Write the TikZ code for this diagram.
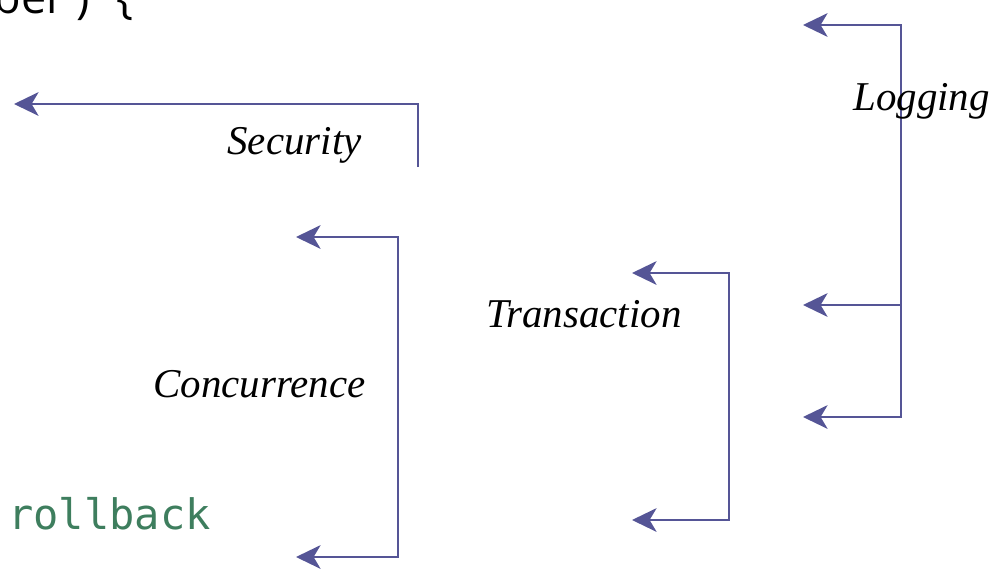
\documentclass[tikz,border=0pt]{standalone}
\usepackage{fontspec}
\newfontfamily\sigfont{Open Sans}
\newfontfamily\codefont{DejaVu Sans Mono}
\newfontfamily\labelfont{Liberation Serif}
\usetikzlibrary{arrows.meta}
\definecolor{aspectblue}{RGB}{85,85,150}
\definecolor{codegreen}{RGB}{62,126,94}
\tikzset{>={Stealth[length=14pt, width=13.5pt, inset=4pt]}}
\tikzstyle{hook} = [draw = aspectblue, line width = 1.1pt, line join = miter]
\tikzstyle{aspect} = [draw = none, inner sep = 0, font = \fontsize{23.3pt}{28pt}\labelfont\itshape]

\begin{document}
\begin{tikzpicture}[x = 0.02cm, y = -0.02cm]
\clip (0, 0) rectangle (1000, 578);
%\node at (500, 289) {};
\node [draw = none, inner sep = 0, anchor = base east, font = \fontsize{25.6pt}{30pt}\sigfont] (sig) at (134, 13) {ber )\hspace{0.6em}\{};
\node [draw = none, inner sep = 0, anchor = base west, text = codegreen, font = \fontsize{23.9pt}{28pt}\codefont] (rb) at (8, 529) {rollback};

% Security
\coordinate (S0) at (418, 167);
\coordinate (S1) at (418, 104);
\coordinate (S2) at (14, 104);
\draw [hook, ->] (S0) -- (S1) -- (S2);
\node [aspect, anchor = base east] (Sec) at (362, 154) {Security};

% Concurrence
\coordinate (C0) at (398, 237);
\coordinate (C1) at (398, 557);
\coordinate (C2) at (296, 237);
\coordinate (C3) at (296, 557);
\draw [hook, <->] (C2) -- (C0) -- (C1) -- (C3);
\node [aspect, anchor = base east] (Con) at (366, 397) {Concurrence};

% Transaction
\coordinate (T0) at (729, 273);
\coordinate (T1) at (729, 520);
\coordinate (T2) at (632, 273);
\coordinate (T3) at (632, 520);
\draw [hook, <->] (T2) -- (T0) -- (T1) -- (T3);
\node [aspect, anchor = base east] (Tra) at (682, 327) {Transaction};

% Logging
\coordinate (L0) at (901, 25);
\coordinate (L1) at (901, 417);
\coordinate (L2) at (901, 305);
\coordinate (L3) at (803, 25);
\coordinate (L4) at (803, 417);
\coordinate (L5) at (803, 305);
\draw [hook, <->] (L3) -- (L0) -- (L1) -- (L4);
\draw [hook, ->] (L2) -- (L5);
\node [aspect, anchor = base west] (Log) at (853, 110) {Logging};
\end{tikzpicture}
\end{document}
